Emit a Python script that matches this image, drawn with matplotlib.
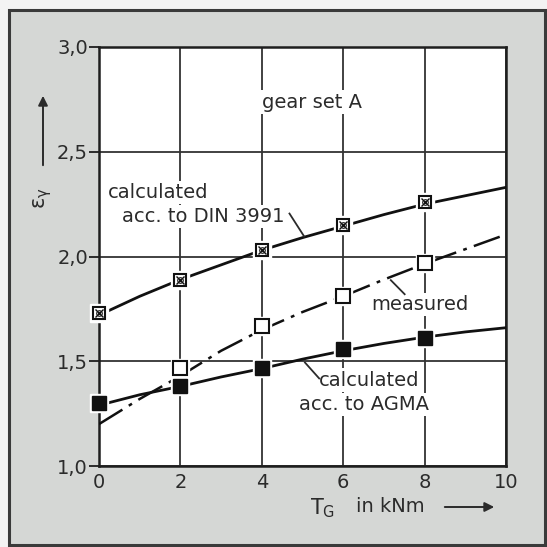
import numpy as np
import matplotlib
matplotlib.use("Agg")
import matplotlib.pyplot as plt
from matplotlib.patches import Rectangle, FancyArrowPatch

# torque T_G in kNm at the marker positions
torque = [0, 2, 4, 6, 8]
din_points = [1.73, 1.89, 2.03, 2.15, 2.26]
measured_torque = [2, 4, 6, 8]
measured_points = [1.47, 1.67, 1.81, 1.97]
agma_points = [1.30, 1.38, 1.47, 1.56, 1.61]

# curves
curve_torque = [0, 1, 2, 3, 4, 5, 6, 7, 8, 9, 10]
din_curve = [1.72, 1.81, 1.89, 1.96, 2.03, 2.09, 2.145, 2.20, 2.25, 2.29, 2.33]
measured_curve = [1.20, 1.32, 1.43, 1.55, 1.65, 1.735, 1.81, 1.89, 1.965, 2.035, 2.105]
agma_curve = [1.29, 1.34, 1.38, 1.425, 1.465, 1.51, 1.55, 1.585, 1.615, 1.64, 1.66]

x_ticks = [0, 2, 4, 6, 8, 10]
y_ticks = [1.0, 1.5, 2.0, 2.5, 3.0]
y_tick_labels = ['1,0', '1,5', '2,0', '2,5', '3,0']

ink = '#2b2b2b'
plt.rcParams['font.family'] = ['DejaVu Sans']

fig = plt.figure(figsize=(5.47, 5.47), dpi=100)
fig.patch.set_facecolor('#f3f3f3')
fig.patches.append(Rectangle((9/547, 2/547), 536/547, 535/547, transform=fig.transFigure,
                             facecolor='#d5d7d5', edgecolor='#3a3a3a', linewidth=2.2, zorder=-5))

ax = fig.add_axes([99/547, 1-466/547, 407/547, 419/547])
ax.set_zorder(1)
ax.set_facecolor('white')
ax.set_xlim(0, 10)
ax.set_ylim(1.0, 3.0)

ax.set_xticks(x_ticks)
ax.set_xticklabels([str(t) for t in x_ticks])
ax.set_yticks(y_ticks)
ax.set_yticklabels(y_tick_labels)
ax.tick_params(axis='y', direction='out', length=7, width=1.4, colors=ink, labelsize=14, pad=1)
ax.tick_params(axis='x', direction='out', length=0, colors=ink, labelsize=14, pad=5)
ax.set_xticks([0, 10], minor=True)
ax.tick_params(axis='x', which='minor', direction='out', length=6, width=1.4, color=ink)
for s in ax.spines.values():
    s.set_color('#1e1e1e')
    s.set_linewidth(1.8)
ax.grid(True, color='#333333', linewidth=1.3)
ax.set_axisbelow(True)

# lines
ax.plot(curve_torque, din_curve, color='#111111', lw=2.0, zorder=3)
ax.plot(curve_torque, measured_curve, color='#111111', lw=1.8, dashes=(11, 3, 1.5, 3), zorder=3)
ax.plot(curve_torque, agma_curve, color='#111111', lw=2.0, zorder=3)

# white halo round markers (line gaps)
for xs, ys in [(torque, din_points), (measured_torque, measured_points), (torque, agma_points)]:
    ax.plot(xs, ys, 's', ms=13, mfc='white', mec='white', zorder=4, clip_on=False)

ax.plot(torque, din_points, 's', ms=9, mfc='white', mec='#111111', mew=1.5, zorder=5, clip_on=False)
ax.plot(torque, din_points, 'x', ms=6, mec='#111111', mew=1.0, zorder=6, clip_on=False)
ax.plot(torque, din_points, 'o', ms=4, mfc='none', mec='#111111', mew=0.8, zorder=6, clip_on=False)
ax.plot(measured_torque, measured_points, 's', ms=10, mfc='white', mec='#111111', mew=1.5, zorder=5)
ax.plot(torque, agma_points, 's', ms=10, mfc='#111111', mec='#111111', zorder=5, clip_on=False)

# labels
box = dict(facecolor='white', edgecolor='none', pad=1.5)
ax.text(5.24, 2.737, 'gear set A', ha='center', va='center', fontsize=14, color=ink, bbox=box, zorder=2)
ax.text(0.21, 2.305, 'calculated', ha='left', va='center', fontsize=14, color=ink, bbox=box, zorder=2)
ax.text(0.575, 2.19, 'acc. to DIN 3991', ha='left', va='center', fontsize=14, color=ink, bbox=box, zorder=2)
ax.plot([4.68, 5.04], [2.205, 2.096], color=ink, lw=1.3, zorder=3)
ax.text(6.70, 1.77, 'measured', ha='left', va='center', fontsize=14, color=ink, bbox=box, zorder=2)
ax.plot([7.17, 7.51], [1.887, 1.82], color=ink, lw=1.3, zorder=3)
ax.text(5.41, 1.41, 'calculated', ha='left', va='center', fontsize=14, color=ink, bbox=box, zorder=2)
ax.text(4.92, 1.293, 'acc. to AGMA', ha='left', va='center', fontsize=14, color=ink, bbox=box, zorder=2)
ax.plot([5.06, 5.41], [1.494, 1.418], color=ink, lw=1.3, zorder=3)

# axis titles with arrows
fig.text(43/547, 1-198/547, r'$\mathregular{\varepsilon_\gamma}$', rotation=90, ha='center', va='center',
         fontsize=15, color=ink)
fig.patches.append(FancyArrowPatch((43/547, 1-168/547), (43/547, 1-93/547), transform=fig.transFigure,
                                   arrowstyle='-|>', color=ink, lw=1.4, mutation_scale=14))
fig.text(310/547, 1-508/547, r'T$_\mathregular{G}$', ha='left', va='center', fontsize=15, color=ink)
fig.text(356/547, 1-506/547, 'in kNm', ha='left', va='center', fontsize=14, color=ink)
fig.patches.append(FancyArrowPatch((442/547, 1-507/547), (497/547, 1-507/547), transform=fig.transFigure,
                                   arrowstyle='-|>', color=ink, lw=1.4, mutation_scale=14))

fig.savefig('out.png', dpi=100, facecolor=fig.get_facecolor())
